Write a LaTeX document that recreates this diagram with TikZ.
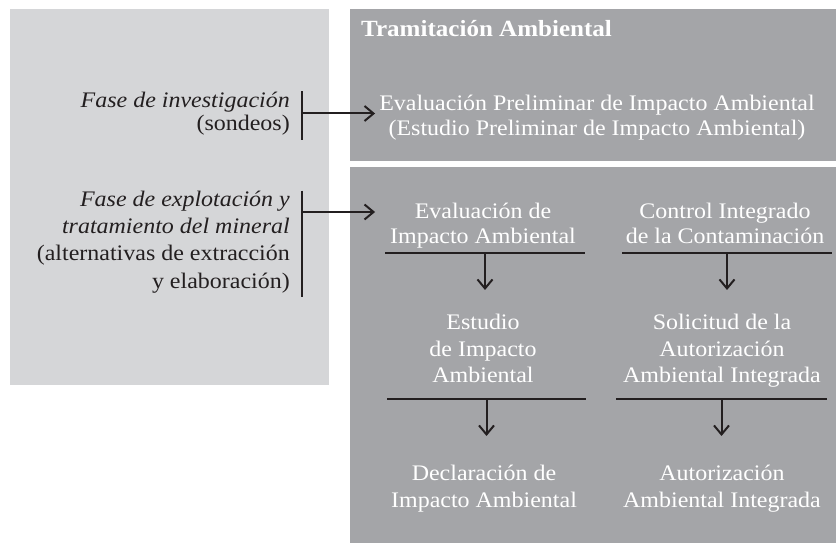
\documentclass[tikz,border=0pt]{standalone}
\usepackage{fontspec}
\setmainfont{Liberation Serif}[FakeStretch=1.08]
\usetikzlibrary{arrows.meta,positioning}
\definecolor{fondoclaro}{HTML}{D5D6D8}
\definecolor{fondooscuro}{HTML}{A4A5A8}
\definecolor{tinta}{HTML}{231F20}
\newcommand{\cuerpo}[1]{\fontsize{22.2}{#1}\selectfont}
\tikzset{
	fase/.style={anchor=east, align=right, inner sep=0pt, text=tinta, font=\cuerpo{25}},
	paso/.style={align=center, inner sep=0pt, text=white, font=\cuerpo{25}},
	raya/.style={draw=tinta, line width=2.6pt},
	flecha/.style={draw=tinta, line width=2pt, -{Straight Barb[length=9pt,width=15pt]}}
}

\begin{document}
\begin{tikzpicture}[x=1pt, y=-1pt]
	\useasboundingbox (0,0) rectangle (836,545);

	% Panels
	\fill[fondoclaro] (10,9) rectangle (329,385);
	\fill[fondooscuro] (350,9) rectangle (836,161);
	\fill[fondooscuro] (350,167) rectangle (836,543);

	% Phases of the project
	\node[fase, font=\cuerpo{23.5}] (inv) at (290,113.5) {\textit{Fase de investigación}\\(sondeos)};
	\node[fase, font=\cuerpo{27.3}] (exp) at (290,242) {\textit{Fase de explotación y}\\\textit{tratamiento del mineral}\\(alternativas de extracción\\y elaboración)};

	% Environmental procedure
	\node[anchor=base west, inner sep=0pt, text=white, font=\fontsize{23.2}{26}\selectfont\bfseries] (tram) at (361,37) {Tramitación Ambiental};
	\node[paso] (epia) at (597,118) {Evaluación Preliminar de Impacto Ambiental\\(Estudio Preliminar de Impacto Ambiental)};

	\node[paso] (eia) at (483,226) {Evaluación de\\Impacto Ambiental};
	\node[paso] (cic) at (725,223.6) {Control Integrado\\de la Contaminación};
	\node[paso, font=\cuerpo{26.5}] (esia) at (483,348.5) {Estudio\\de Impacto\\Ambiental};
	\node[paso, font=\cuerpo{26.5}] (saai) at (722,350.9) {Solicitud de la\\Autorización\\Ambiental Integrada};
	\node[paso, font=\cuerpo{27}] (dia) at (484,489) {Declaración de\\Impacto Ambiental};
	\node[paso, font=\cuerpo{27}] (aai) at (722,489) {Autorización\\Ambiental Integrada};

	% Brackets and arrows from the phases
	\draw[raya] ([xshift=12pt]inv.north east) -- ([xshift=12pt,yshift=-4pt]inv.south east);
	\draw[raya] ([xshift=12pt]exp.north east) -- ([xshift=12pt,yshift=-4pt]exp.south east);
	\coordinate (b1) at ([xshift=12pt]inv.east);
	\coordinate (b2) at ([xshift=12pt,yshift=30pt]exp.east);
	\draw[flecha, shorten >=4pt] (b1) -- (b1 -| epia.west);
	\draw[flecha, shorten >=4pt] (b2) -- (b2 -| epia.west);

	% Rules and downward arrows
	\foreach \xa/\xb/\y in {385/585/253, 622/832/253, 387/586/399, 616/827/399} {
		\draw[raya] (\xa,\y) -- (\xb,\y) coordinate[midway] (r);
		\draw[flecha] (r) -- ++(0,37);
	}
\end{tikzpicture}
\end{document}
